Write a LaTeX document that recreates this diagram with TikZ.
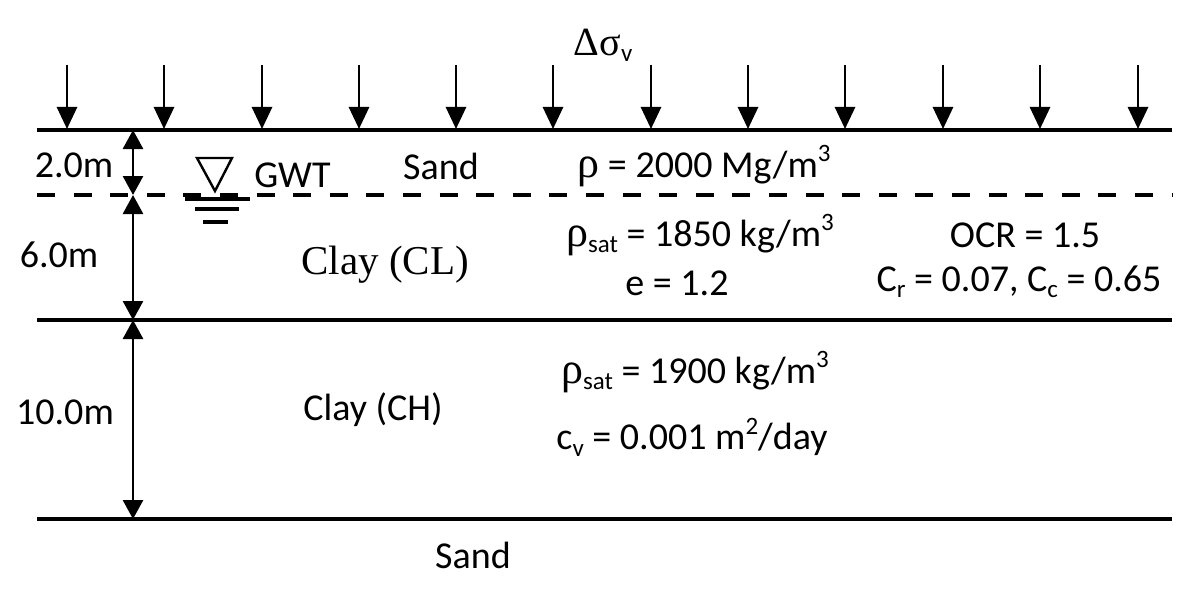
\documentclass[tikz,border=0pt]{standalone}
\usepackage{fontspec}
\setmainfont{Carlito}
\newfontfamily\seriffont{Liberation Serif}
\usetikzlibrary{arrows.meta}
\newcommand\lowtxt[1]{\raisebox{-0.35ex}{\fontsize{12.5}{12.5}\selectfont #1}}
\newcommand\uptxt[1]{\raisebox{0.85ex}{\fontsize{12.5}{12.5}\selectfont #1}}
\newcommand\grk[1]{{\seriffont\fontsize{22}{24}\selectfont #1}}
\begin{document}
\begin{tikzpicture}[x=0.5pt,y=-0.5pt,
  layer/.style={line width=2.3pt},
  wt/.style={line width=2.3pt,dash pattern=on 9pt off 9.3pt},
  dimarrow/.style={line width=1.4pt,{Triangle[width=10pt,length=9.5pt]}-{Triangle[width=10pt,length=9.5pt]}},
  loadarrow/.style={line width=1.4pt,-{Triangle[width=10pt,length=11pt]}},
  lbl/.style={inner sep=0pt,font=\fontsize{19}{22}\selectfont},
  slbl/.style={inner sep=0pt,font=\fontsize{20.5}{24}\selectfont\seriffont}]
\useasboundingbox (0,0) rectangle (1192,615);
% layer boundaries
\coordinate (tL) at (37,130);  \coordinate (tR) at (1172,130);
\coordinate (wL) at (37,195);  \coordinate (wR) at (1172,195);
\coordinate (mL) at (37,320);  \coordinate (mR) at (1172,320);
\coordinate (bL) at (37,519);  \coordinate (bR) at (1172,519);
\draw[layer] (tL) -- (tR);
\draw[wt] (wL) -- (wR);
\draw[layer] (mL) -- (mR);
\draw[layer] (bL) -- (bR);
% dimension arrows
\coordinate (d0) at (133,130);
\coordinate (d1) at (133,195);
\coordinate (d2) at (133,320);
\coordinate (d3) at (133,519);
\draw[dimarrow] (d0) -- (d1);
\draw[dimarrow] (d1) -- (d2);
\draw[dimarrow] (d2) -- (d3);
\node[lbl] (h1) at (74,165) {2.0m};
\node[lbl] (h2) at (59,255) {6.0m};
\node[lbl] (h3) at (65,412) {10.0m};
% load arrows
\foreach \i/\x in {1/67,2/164,3/262,4/359,5/456,6/553,7/651,8/748,9/845,10/943,11/1040,12/1138}{
  \coordinate (a\i) at (\x,65);
  \coordinate (b\i) at (\x,129);
  \draw[loadarrow] (a\i) -- (b\i);
}
\node[lbl] (load) at (603,45) {{\seriffont\fontsize{20}{24}\selectfont Δσ}\lowtxt{v}};
% GWT symbol
\draw[line width=1.2pt] (197,158) -- (232,158) -- (215,191) -- cycle;
\draw[line width=1.6pt] (185,199) -- (250,199);
\draw[line width=1.6pt] (195,209) -- (239,209);
\draw[line width=1.6pt] (203,222) -- (228,222);
\node[lbl,anchor=west] (gwt) at (254,175) {GWT};
% texts
\node[lbl] (sand1) at (441,166) {Sand};
\node[lbl] (rho1) at (704,166) {\grk{ρ} = 2000 Mg/m\uptxt{3}};
\node[slbl] (clay1) at (385,265) {Clay (CL)};
\node[lbl] (rho2) at (700,235) {\grk{ρ}\lowtxt{sat} = 1850 kg/m\uptxt{3}};
\node[lbl] (e) at (677,283) {e = 1.2};
\node[lbl] (ocr) at (1025,235) {OCR = 1.5};
\node[lbl] (cr) at (1019,282) {C\lowtxt{r} = 0.07, C\lowtxt{c} = 0.65};
\node[lbl] (rho3) at (695,372) {\grk{ρ}\lowtxt{sat} = 1900 kg/m\uptxt{3}};
\node[lbl] (cv) at (692,437) {c\lowtxt{v} = 0.001 m\uptxt{2}/day};
\node[lbl] (clay2) at (373,410) {Clay (CH)};
\node[lbl] (sand2) at (473,555) {Sand};
\end{tikzpicture}
\end{document}
